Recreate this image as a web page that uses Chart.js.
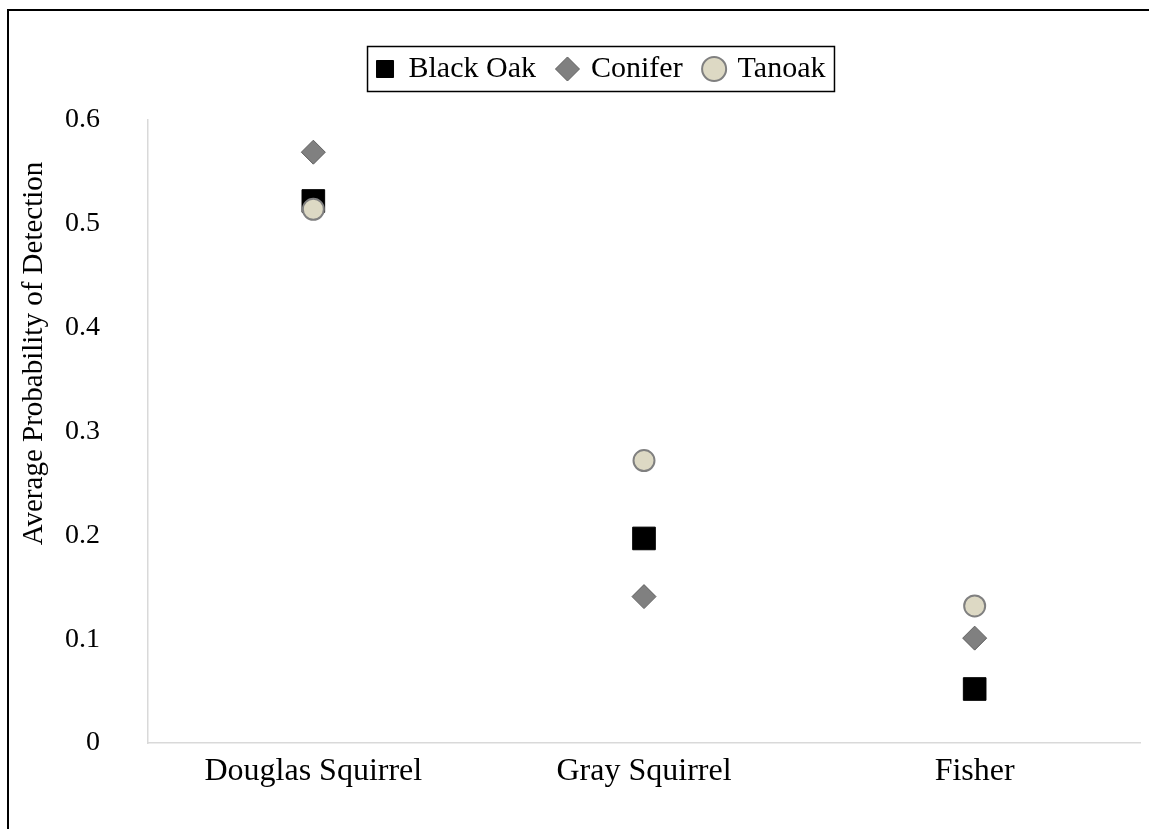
<!DOCTYPE html>
<html lang="en">
<head>
  <meta charset="UTF-8" />
  <title>Average Probability of Detection</title>
  <style>
    html, body {
      margin: 0;
      padding: 0;
      background: #fff;
      overflow: hidden;
    }
    #wrap {
      position: relative;
      width: 1149px;
      height: 829px;
      overflow: hidden;
    }
    #frame {
      position: absolute;
      left: 7px;
      top: 9px;
      width: 1140px;
      height: 818px;
      border-left: 2px solid #000;
      border-top: 2px solid #000;
      pointer-events: none;
    }
  </style>
  <script src="https://cdn.jsdelivr.net/npm/chart.js"></script>
</head>
<body>
  <div id="wrap">
    <canvas id="chart" width="1149" height="829"></canvas>
    <div id="frame"></div>
  </div>

  <script>
    const species = ["Douglas Squirrel", "Gray Squirrel", "Fisher"];
    const blackOak = [0.522, 0.197, 0.052];
    const conifer = [0.569, 0.141, 0.101];
    const tanoak = [0.514, 0.272, 0.132];
    const yTicks = [0, 0.1, 0.2, 0.3, 0.4, 0.5, 0.6];

    const serif = "'Liberation Serif', 'Times New Roman', serif";
    const legendPad = 23;
    const legendCenter = { x: 601, y: 69 };
    const yTitleShift = -78; // the y title sits above the middle of the axis

    // move the legend where the original has it, draw its frame, nudge the y title
    const layoutTweaks = {
      id: 'layoutTweaks',
      afterLayout(chart) {
        const lg = chart.legend;
        const dx = legendCenter.x - (lg.left + lg.right) / 2;
        const dy = legendCenter.y - (lg.top + legendPad + 15);
        lg.left += dx; lg.right += dx;
        lg.top += dy; lg.bottom += dy;

        const y = chart.scales.y;
        if (!y._titleShifted) {
          const orig = y.drawTitle;
          y.drawTitle = function () {
            this.ctx.save();
            this.ctx.translate(0, yTitleShift);
            orig.apply(this, arguments);
            this.ctx.restore();
          };
          y._titleShifted = true;
        }
      },
      afterDraw(chart) {
        const boxes = chart.legend.legendHitBoxes;
        if (!boxes || !boxes.length) return;
        const first = boxes[0];
        const last = boxes[boxes.length - 1];
        const x0 = first.left - 9;
        const x1 = last.left + last.width + 9;
        const cy = first.top + first.height / 2;
        const ctx = chart.ctx;
        ctx.save();
        ctx.strokeStyle = '#000';
        ctx.lineWidth = 1.5;
        ctx.strokeRect(x0, cy - 22.5, x1 - x0, 45);
        ctx.restore();
      }
    };

    new Chart(document.getElementById('chart'), {
      type: 'line',
      data: {
        labels: species,
        datasets: [
          {
            label: 'Black Oak',
            data: blackOak,
            showLine: false,
            pointStyle: 'rect',
            pointRadius: 16,
            pointHoverRadius: 16,
            backgroundColor: '#000000',
            borderColor: '#000000',
            borderWidth: 1,
            order: 2
          },
          {
            label: 'Conifer',
            data: conifer,
            showLine: false,
            pointStyle: 'rectRot',
            pointRadius: 12,
            pointHoverRadius: 12,
            backgroundColor: '#808080',
            borderColor: '#5f5f5f',
            borderWidth: 1,
            order: 1
          },
          {
            label: 'Tanoak',
            data: tanoak,
            showLine: false,
            pointStyle: 'circle',
            pointRadius: 10.5,
            pointHoverRadius: 10.5,
            backgroundColor: '#ddd9c4',
            borderColor: '#808080',
            borderWidth: 2,
            order: 0
          }
        ]
      },
      options: {
        responsive: false,
        animation: false,
        layout: {
          autoPadding: false,
          padding: { left: 0, right: 9, top: 57, bottom: 0 }
        },
        plugins: {
          legend: {
            position: 'top',
            labels: {
              usePointStyle: true,
              boxHeight: 17,
              boxWidth: 17,
              padding: legendPad,
              color: '#000',
              font: { family: serif, size: 30 },
              sort: (a, b) => a.datasetIndex - b.datasetIndex
            }
          },
          tooltip: { enabled: false }
        },
        scales: {
          x: {
            type: 'category',
            offset: true,
            grid: { display: true, drawOnChartArea: false, drawTicks: false },
            border: { display: true, color: '#d9d9d9', width: 1.5 },
            ticks: {
              color: '#000',
              padding: 9,
              maxRotation: 0,
              font: { family: serif, size: 32 }
            },
            afterFit(scale) {
              scale.height = 86;
              scale.paddingLeft = 0;
              scale.paddingRight = 0;
            }
          },
          y: {
            min: 0,
            max: 0.6,
            afterBuildTicks(scale) {
              scale.ticks = yTicks.map(v => ({ value: v }));
            },
            grid: { display: true, drawOnChartArea: false, drawTicks: false },
            border: { display: true, color: '#d9d9d9', width: 1.5 },
            ticks: {
              color: '#000',
              padding: 48,
              font: { family: serif, size: 28 },
              callback: v => (v === 0 ? '0' : v.toFixed(1))
            },
            title: {
              display: true,
              text: 'Average Probability of Detection',
              color: '#000',
              font: { family: serif, size: 29 },
              padding: { top: 17, bottom: 0 }
            },
            afterFit(scale) { scale.width = 148; }
          }
        }
      },
      plugins: [layoutTweaks]
    });
  </script>
</body>
</html>
